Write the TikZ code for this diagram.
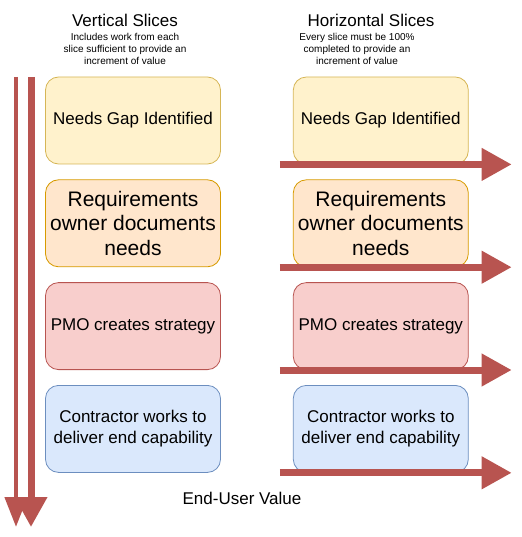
\documentclass[tikz,border=0pt]{standalone}
\usepackage{fontspec}
\setmainfont{Liberation Sans}
\usepackage{xcolor}
\usepackage{tikz}
\usetikzlibrary{positioning, arrows.meta, calc}
\definecolor{slicered}{HTML}{B85450}
\definecolor{needfill}{HTML}{FFF2CC}
\definecolor{needline}{HTML}{D6B656}
\definecolor{reqfill}{HTML}{FFE6CC}
\definecolor{reqline}{HTML}{D79B00}
\definecolor{pmofill}{HTML}{F8CECC}
\definecolor{pmoline}{HTML}{B85450}
\definecolor{confill}{HTML}{DAE8FC}
\definecolor{conline}{HTML}{6C8EBF}

\tikzset{
  slicebox/.style={draw, line width=0.8pt, rounded corners=13pt, inner sep=0pt,
    minimum width=175pt, minimum height=87pt, align=center,
    font=\fontsize{17}{21}\selectfont},
  flow/.style={draw=slicered, line width=7pt,
    -{Triangle[length=30pt, width=31pt, fill=slicered]}},
  thinflow/.style={draw=slicered, line width=4.5pt,
    -{Triangle[length=30pt, width=22pt, fill=slicered]}},
  heading/.style={font=\fontsize{17}{20}\selectfont},
  subheading/.style={font=\fontsize{10}{12}\selectfont, align=center}
}

\begin{document}
\begin{tikzpicture}[x=1pt, y=-1pt]
  \useasboundingbox (0,0) rectangle (521,537);

  % column headings
  \node[heading] (vtitle) at (125,20) {Vertical Slices};
  \node[subheading] (vnote) at (125,49) {Includes work from each\\slice sufficient to provide an\\increment of value};
  \node[heading] (htitle) at (371,20) {Horizontal Slices};
  \node[subheading] (hnote) at (357,49) {Every slice must be 100\%\\completed to provide an\\increment of value};

  % left column
  \node[slicebox, fill=needfill, draw=needline] (lneed) at (133,120.5) {\raisebox{-2pt}{Needs Gap Identified}};
  \node[slicebox, fill=reqfill, draw=reqline, below=15pt of lneed,
        font=\fontsize{21}{24.5}\selectfont] (lreq) {Requirements\\owner documents\\needs};
  \node[slicebox, fill=pmofill, draw=pmoline, below=15pt of lreq] (lpmo) {\raisebox{-2pt}{PMO creates strategy}};
  \node[slicebox, fill=confill, draw=conline, below=15pt of lpmo] (lcon) {Contractor works to\\deliver end capability};

  % right column
  \node[slicebox, fill=needfill, draw=needline, right=72pt of lneed] (rneed) {\raisebox{-2pt}{Needs Gap Identified}};
  \node[slicebox, fill=reqfill, draw=reqline, right=72pt of lreq,
        font=\fontsize{21}{24.5}\selectfont] (rreq) {Requirements\\owner documents\\needs};
  \node[slicebox, fill=pmofill, draw=pmoline, right=72pt of lpmo] (rpmo) {\raisebox{-2pt}{PMO creates strategy}};
  \node[slicebox, fill=confill, draw=conline, right=72pt of lcon] (rcon) {Contractor works to\\deliver end capability};

  % vertical slices
  \coordinate (vtopa) at (16,77);
  \coordinate (venda) at (16,527);
  \coordinate (vtopb) at (31,77);
  \coordinate (vendb) at (31,527);
  \draw[thinflow] (vtopa) -- (venda);
  \draw[flow] (vtopb) -- (vendb);

  % horizontal slices
  \foreach \b in {rneed, rreq, rpmo, rcon}{
    \draw[flow] ($(\b.south west)+(-13,0)$) -- ($(\b.south east)+(43,0)$);
  }

  \node[heading] (value) at (242,498) {End-User Value};
\end{tikzpicture}
\end{document}
